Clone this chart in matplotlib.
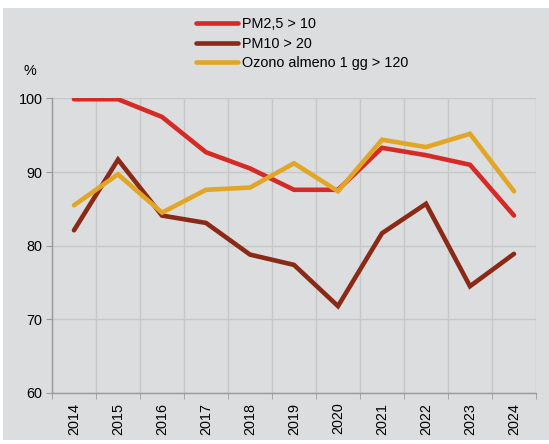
import matplotlib.pyplot as plt
from matplotlib.patches import Rectangle
import numpy as np

years = ['2014', '2015', '2016', '2017', '2018', '2019', '2020', '2021', '2022', '2023', '2024']
pm25 = [99.9, 99.9, 97.5, 92.7, 90.5, 87.6, 87.6, 93.3, 92.3, 91.0, 84.1]
pm10 = [82.1, 91.7, 84.1, 83.1, 78.8, 77.4, 71.8, 81.7, 85.7, 74.5, 78.9]
ozono = [85.5, 89.7, 84.5, 87.6, 87.9, 91.2, 87.4, 94.4, 93.4, 95.2, 87.4]

labels = ['PM2,5 > 10', 'PM10 > 20', 'Ozono almeno 1 gg > 120']
colors = ['#d62a27', '#8a2a16', '#e1a626']

plt.rcParams['font.family'] = ['Liberation Sans', 'DejaVu Sans']

W, H = 549, 444
fig = plt.figure(figsize=(W / 100, H / 100), dpi=100, facecolor='white')
bg = '#dcdddf'
fig.patches.append(Rectangle((3 / W, 4 / H), 1, (H - 12) / H, transform=fig.transFigure,
                             facecolor=bg, edgecolor='none', zorder=-10))

ax = fig.add_axes([52 / W, (H - 393) / H, 484 / W, (393 - 98.5) / H])
ax.set_facecolor(bg)

x = np.arange(len(years))
for vals, lab, col in zip([pm25, pm10, ozono], labels, colors):
    ax.plot(x, vals, color=col, lw=3.3, label=lab, solid_capstyle='round', solid_joinstyle='miter')

ax.set_xlim(-0.5, len(years) - 0.5)
ax.set_ylim(60, 100)
ax.set_yticks([60, 70, 80, 90, 100])
ax.set_xticks(x)
ax.set_xticklabels(years, rotation=90)
ax.set_xticks(np.arange(-0.5, len(years)), minor=True)

ax.grid(True, axis='y', color='#c6c7c9', lw=1.0)
ax.grid(True, axis='x', which='minor', color='#c6c7c9', lw=1.0)
ax.set_axisbelow(True)

for s in ['top', 'right']:
    ax.spines[s].set_visible(False)
for s in ['left', 'bottom']:
    ax.spines[s].set_color('#9a9a9c')
    ax.spines[s].set_linewidth(1.0)

ax.tick_params(axis='y', labelsize=10.4, length=4, color='#9a9a9c', pad=3)
ax.tick_params(axis='x', which='major', length=0, labelsize=10.4, pad=7)
ax.tick_params(axis='x', which='minor', length=4, color='#9a9a9c')

fig.text(30 / W, 1 - 71 / H, '%', ha='center', va='center', fontsize=10.4)

fig.legend(loc='upper left', bbox_to_anchor=(196 / W, 1 - 17.5 / H), frameon=False,
           fontsize=10.4, handlelength=2.9, handletextpad=0.3, labelspacing=0.36,
           borderpad=0, borderaxespad=0)

fig.savefig('out.png', dpi=100, facecolor='white')
